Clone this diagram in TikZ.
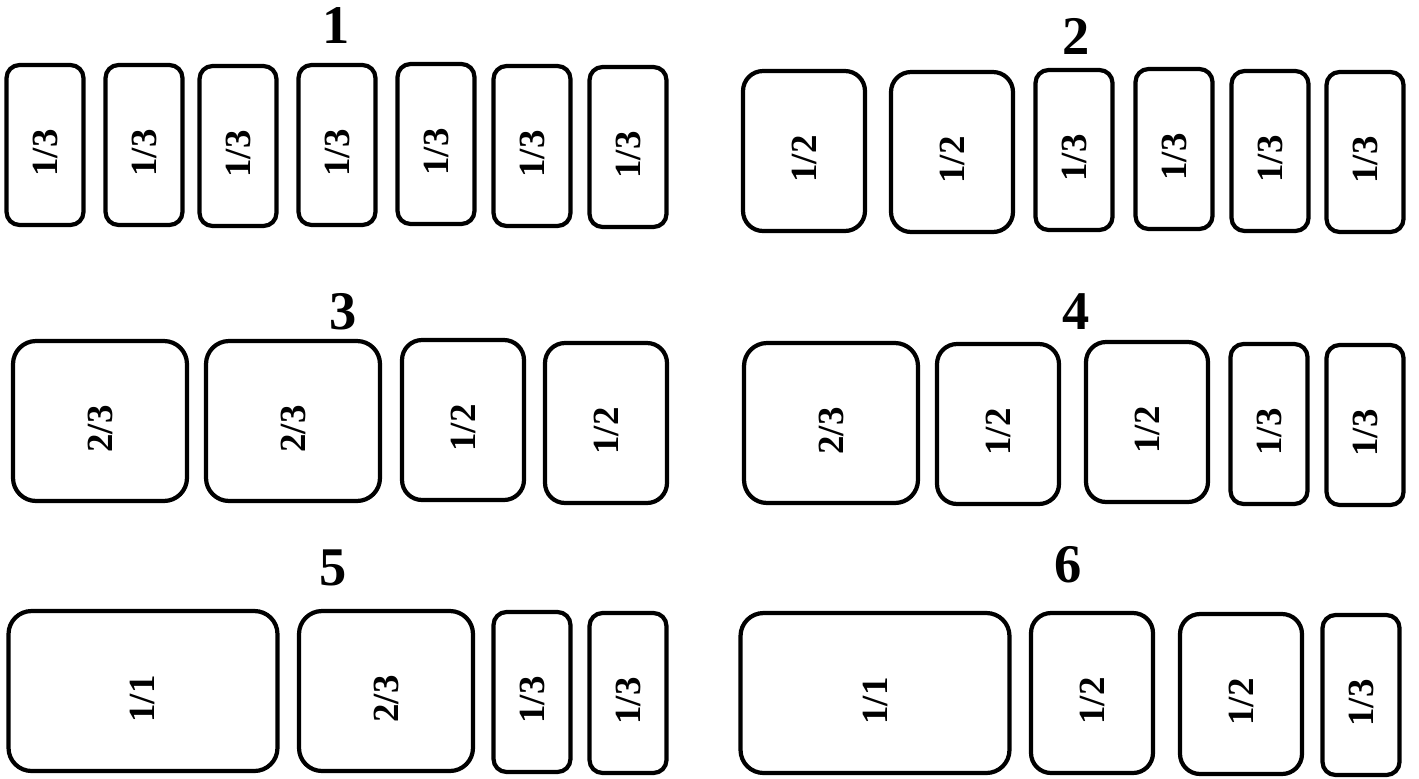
\documentclass[tikz,border=0pt]{standalone}
\usepackage{fontspec}
\setmainfont{Liberation Serif}
\usetikzlibrary{positioning}

% upright label turned a quarter, set a little below the middle
\newcommand{\vlab}[1]{\rotatebox{90}{\hspace{-0.32cm}\textbf{#1}}}

\begin{document}
\begin{tikzpicture}[
    x=0.02cm, y=-0.02cm,
    tray/.style={rectangle, draw, line width=2.4pt, minimum height=3.2cm, inner sep=0pt, font=\bfseries\fontsize{21}{21}\selectfont},
    third/.style={tray, minimum width=1.54cm, rounded corners=0.26cm},
    half/.style={tray, minimum width=2.44cm, rounded corners=0.4cm},
    twothird/.style={tray, minimum width=3.48cm, rounded corners=0.46cm},
    whole/.style={tray, minimum width=5.38cm, rounded corners=0.46cm},
    num/.style={inner sep=0pt, font=\bfseries\fontsize{31}{31}\selectfont}
]
    \useasboundingbox (0,0) rectangle (1419,778);

    % group 1
    \node[num] (lab1) at (336,26) {1};
    \node[third] (t1a) at (45,145) {\vlab{1/3}};
    \node[third] (t1b) at (144,145) {\vlab{1/3}};
    \node[third] (t1c) at (238,146) {\vlab{1/3}};
    \node[third] (t1d) at (337,145) {\vlab{1/3}};
    \node[third] (t1e) at (436,144) {\vlab{1/3}};
    \node[third] (t1f) at (532,146) {\vlab{1/3}};
    \node[third] (t1g) at (628,147) {\vlab{1/3}};

    % group 2
    \node[num] (lab2) at (1076,36) {2};
    \node[half] (t2a) at (804,151) {\vlab{1/2}};
    \node[half] (t2b) at (952,152) {\vlab{1/2}};
    \node[third] (t2c) at (1074,150) {\vlab{1/3}};
    \node[third] (t2d) at (1174,149) {\vlab{1/3}};
    \node[third] (t2e) at (1270,151) {\vlab{1/3}};
    \node[third] (t2f) at (1365,152) {\vlab{1/3}};

    % group 3
    \node[num] (lab3) at (343,312) {3};
    \node[twothird] (t3a) at (100,421) {\vlab{2/3}};
    \node[twothird] (t3b) at (293,421) {\vlab{2/3}};
    \node[half] (t3c) at (463,420) {\vlab{1/2}};
    \node[half] (t3d) at (606,423) {\vlab{1/2}};

    % group 4
    \node[num] (lab4) at (1076,312) {4};
    \node[twothird] (t4a) at (831,423) {\vlab{2/3}};
    \node[half] (t4b) at (998,424) {\vlab{1/2}};
    \node[half] (t4c) at (1147,422) {\vlab{1/2}};
    \node[third] (t4d) at (1269,424) {\vlab{1/3}};
    \node[third] (t4e) at (1365,425) {\vlab{1/3}};

    % group 5
    \node[num] (lab5) at (333,568) {5};
    \node[whole] (t5a) at (143,691) {\vlab{1/1}};
    \node[twothird] (t5b) at (386,691) {\vlab{2/3}};
    \node[third] (t5c) at (532,692) {\vlab{1/3}};
    \node[third] (t5d) at (628,693) {\vlab{1/3}};

    % group 6
    \node[num] (lab6) at (1068,565) {6};
    \node[whole] (t6a) at (875,693) {\vlab{1/1}};
    \node[half] (t6b) at (1092,693) {\vlab{1/2}};
    \node[half] (t6c) at (1241,694) {\vlab{1/2}};
    \node[third] (t6d) at (1361,695) {\vlab{1/3}};
\end{tikzpicture}
\end{document}
